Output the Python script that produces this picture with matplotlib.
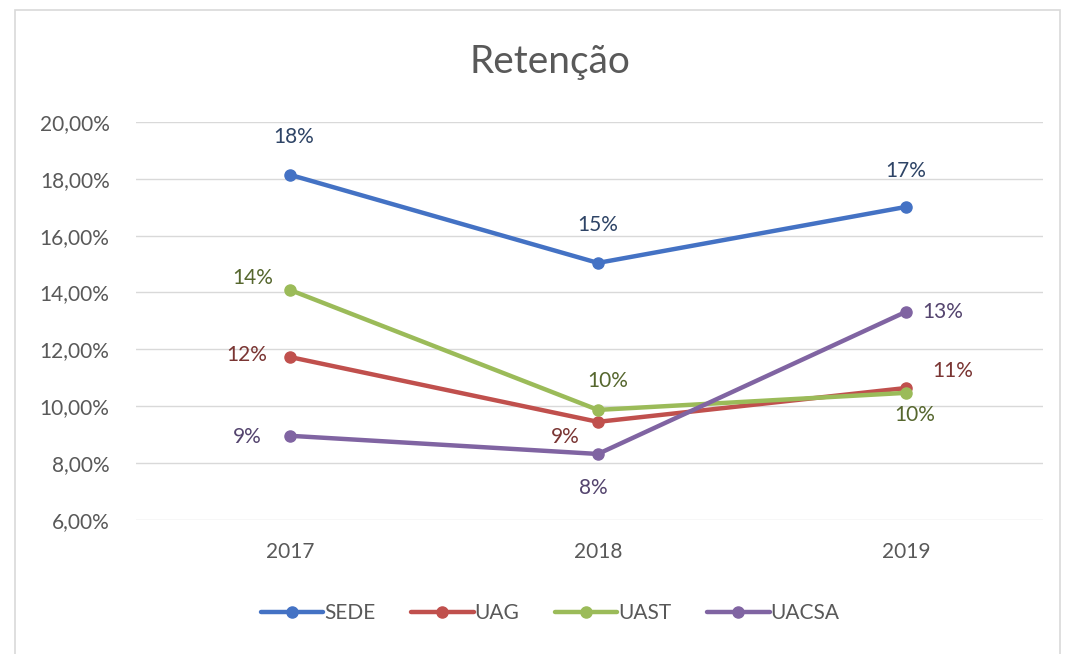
import matplotlib.pyplot as plt
from matplotlib.patches import Rectangle
from matplotlib.ticker import FuncFormatter

plt.rcParams['font.family'] = ['Lato', 'DejaVu Sans']

### data
years = ['2017', '2018', '2019']
sede = [18.14, 15.04, 17.01]
uag = [11.73, 9.45, 10.64]
uast = [14.09, 9.87, 10.47]
uacsa = [8.96, 8.32, 13.32]
y_ticks = [6, 8, 10, 12, 14, 16, 18, 20]

series = [
    ('SEDE', sede, '#4472C4', '#2E4466', [(4, 38), (0, 38), (0, 36)]),
    ('UAG', uag, '#C0504D', '#7A3533', [(-43, 2), (-33, -15), (47, 17)]),
    ('UAST', uast, '#9BBB59', '#56672E', [(-37, 12), (10, 29), (9, -22)]),
    ('UACSA', uacsa, '#8064A2', '#54446E', [(-43, -1), (-5, -34), (37, 0)]),
]

fig = plt.figure(figsize=(10.79, 6.54), dpi=100)
ax = fig.add_axes([0.126, 0.205, 0.8406, 0.6086])

x = list(range(len(years)))
for name, vals, col, lab_col, offs in series:
    ax.plot(x, vals, color=col, lw=3.2, marker='o', ms=8, label=name,
            solid_capstyle='round', zorder=3)
    for xi, v, (dx, dy) in zip(x, vals, offs):
        ax.annotate('%d%%' % round(v), (xi, v), xytext=(dx, dy),
                    textcoords='offset pixels', ha='center', va='center',
                    fontsize=15, color=lab_col, zorder=4)

ax.set_xlim(-0.5, 2.445)
ax.set_ylim(6, 20)
ax.set_yticks(y_ticks)
ax.yaxis.set_major_formatter(FuncFormatter(lambda v, p: ('%.2f%%' % v).replace('.', ',')))
ax.set_xticks(x)
ax.set_xticklabels(years)
ax.grid(axis='y', color='#D9D9D9', lw=1)
ax.set_axisbelow(True)
for s in ax.spines.values():
    s.set_visible(False)
ax.tick_params(length=0, labelsize=15, colors='#595959', pad=19)
ax.tick_params(axis='x', pad=16)

fig.text(0.51, 0.905, 'Retenção', ha='center', va='center', fontsize=28, color='#595959')

leg = fig.legend(loc='center', bbox_to_anchor=(0.51, 0.062), ncol=4, frameon=False,
                 fontsize=15, handlelength=3.0, handletextpad=0.05, columnspacing=1.7)
for t in leg.get_texts():
    t.set_color('#595959')

fig.patches.append(Rectangle((0.014, -0.01), 0.968, 0.995, transform=fig.transFigure,
                             fill=False, edgecolor='#D9D9D9', lw=1.2))

fig.savefig('out.png', dpi=100, facecolor='white')
